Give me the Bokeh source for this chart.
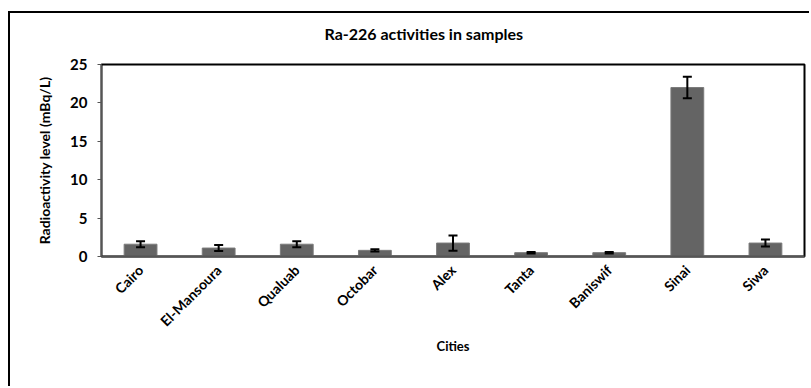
import math
from bokeh.plotting import figure
from bokeh.models import ColumnDataSource, Whisker, TeeHead, Title, FixedTicker, Range1d
from bokeh.embed import file_html
from bokeh.resources import INLINE

cities = ["Cairo", "El-Mansoura", "Qualuab", "Octobar", "Alex", "Tanta", "Baniswif", "Sinai", "Siwa"]
values = [1.6, 1.1, 1.6, 0.8, 1.75, 0.5, 0.5, 22.0, 1.75]
errors = [0.4, 0.4, 0.4, 0.15, 1.0, 0.1, 0.1, 1.4, 0.45]
y_ticks = [0, 5, 10, 15, 20, 25]

upper = [v + e for v, e in zip(values, errors)]
lower = [v - e for v, e in zip(values, errors)]
src = ColumnDataSource(dict(city=cities, val=values, upper=upper, lower=lower))

FONT = "Lato"

p = figure(x_range=cities, y_range=Range1d(0, 25), width=801, height=375,
           output_backend="svg", toolbar_location=None,
           min_border_left=91, min_border_right=7, min_border_top=51, min_border_bottom=132,
           styles={"border-left": "2px solid black", "border-top": "2px solid black",
                   "margin-left": "8px", "margin-top": "11px"})

p.vbar(x="city", top="val", width=0.42, source=src, fill_color="#646464", line_color="#7a7a7a", line_width=1)

w = Whisker(source=src, base="city", upper="upper", lower="lower", line_color="black", line_width=2,
            upper_head=TeeHead(size=9, line_width=2, line_color="black"),
            lower_head=TeeHead(size=9, line_width=2, line_color="black"), level="overlay")
p.add_layout(w)

# blank spacer between the frame and the title
spacer = Title(text=" ", standoff=0, text_font=FONT, text_font_size="15px")
p.add_layout(spacer, "above")

t = Title(text="Ra-226 activities in samples", align="left", offset=223, standoff=4,
          text_font=FONT, text_font_size="16px", text_font_style="bold", text_color="black")
p.add_layout(t, "above")

p.xgrid.grid_line_color = None
p.ygrid.grid_line_color = None
p.outline_line_color = "black"
p.outline_line_width = 2
p.outline_line_alpha = 1.0

ya = p.yaxis[0]
ya.ticker = FixedTicker(ticks=y_ticks)
ya.axis_label = "Radioactivity level (mBq/L)"
ya.axis_label_text_font = FONT
ya.axis_label_text_font_size = "14px"
ya.axis_label_text_font_style = "bold"
ya.axis_label_text_color = "black"
ya.axis_label_standoff = 14
ya.major_label_text_font = FONT
ya.major_label_text_font_size = "15px"
ya.major_label_text_font_style = "bold"
ya.major_label_text_color = "black"
ya.major_label_standoff = 10
ya.major_tick_out = 4
ya.major_tick_in = 0
ya.minor_tick_line_color = None
ya.axis_line_color = "#555555"
ya.major_tick_line_color = "#555555"

xa = p.xaxis[0]
xa.axis_label = "Cities"
xa.axis_label_text_font = FONT
xa.axis_label_text_font_size = "13px"
xa.axis_label_text_font_style = "bold"
xa.axis_label_text_color = "black"
xa.axis_label_standoff = 0
xa.major_label_orientation = math.pi / 4
xa.major_label_text_font = FONT
xa.major_label_text_font_size = "14px"
xa.major_label_text_font_style = "bold"
xa.major_label_text_color = "black"
xa.major_label_standoff = 11
xa.major_tick_line_color = None
xa.major_tick_out = 0
xa.axis_line_color = "#555555"
xa.axis_line_width = 2

open("out.html", "w").write(file_html(p, INLINE))
